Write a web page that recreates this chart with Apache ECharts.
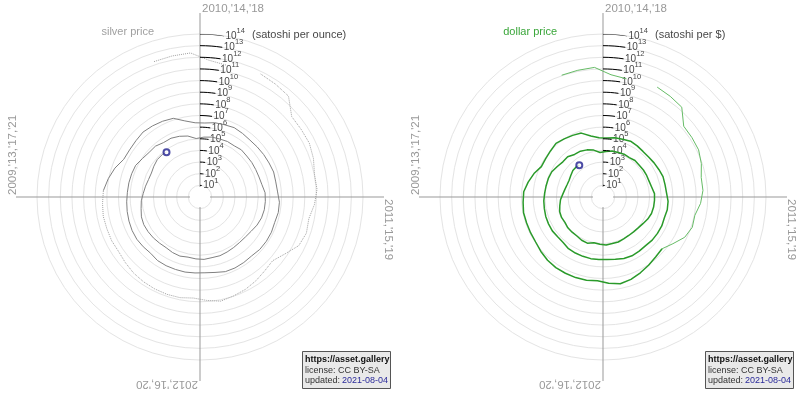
<!DOCTYPE html>
<html>
<head>
<meta charset="utf-8">
<script src="https://cdn.jsdelivr.net/npm/echarts@6/dist/echarts.min.js"></script>
<style>
  html, body { margin: 0; padding: 0; background: #fff; }
  #chart { width: 800px; height: 397px; }
</style>
</head>
<body>
<div id="chart"></div>
<script>
// monthly samples from Oct 2009, last one is 2021-08-04
var startYear = 2009, startMonth = 10;
var lastDay = [2021, 216];   // year, day of year

// bitcoin price in US dollars (null = no quote)
var btcUsd = [
  0.0009, 0.0008, 0.0007,
  0.003, 0.0045, null, 0.003, 0.004, 0.0055, 0.06, 0.065, 0.07, 0.12, 0.25, 0.25,
  0.4, 0.9, 0.8, 1.5, 6, 18, 14, 9, 5.5, 3.4, 2.5, 3.8,
  6.2, 5.2, 4.9, 5.0, 5.1, 6.0, 8.0, 11.0, 11.5, 11.8, 11.0, 13.3,
  15, 28, 55, 125, 120, 100, 75, 100, 125, 160, 450, 800,
  850, 650, 580, 450, 520, 620, 620, 530, 450, 360, 370, 340,
  250, 235, 270, 235, 237, 240, 280, 255, 235, 265, 360, 420,
  410, 400, 415, 430, 460, 640, 660, 580, 605, 640, 730, 800,
  950, 1050, 1100, 1250, 1900, 2600, 2500, 4000, 4100, 5300, 7800, 15000,
  12000, 9500, 9000, 8000, 8500, 6800, 7200, 6700, 6600, 6500, 5400, 3700,
  3700, 3700, 4000, 5200, 7500, 9500, 10500, 10600, 9800, 8300, 8400, 7300,
  8400, 9700, 6500, 7200, 9300, 9500, 9600, 11700, 10700, 11800, 16500, 22000,
  34000, 46000, 55000, 57000, 47000, 36000, 34000, 39500
];

// silver price in US dollars per ounce
var silverUsd = [
  17.2, 17.8, 17.5,
  17.7, 15.9, 17.1, 18.1, 18.4, 18.5, 18.0, 18.4, 20.6, 23.4, 26.5, 29.4,
  28.3, 30.6, 35.8, 42.7, 37.0, 35.8, 37.9, 40.3, 38.0, 31.9, 33.0, 30.4,
  30.9, 33.9, 33.0, 31.5, 28.6, 28.1, 27.4, 28.7, 33.6, 33.4, 32.7, 32.5,
  31.2, 30.4, 28.8, 25.4, 22.7, 21.1, 19.7, 22.1, 22.6, 21.9, 20.8, 19.6,
  19.9, 20.8, 20.7, 19.7, 19.3, 19.8, 20.9, 19.8, 18.4, 17.2, 16.0, 16.2,
  17.1, 16.8, 16.2, 16.3, 16.8, 16.2, 15.0, 14.9, 14.7, 15.7, 14.5, 14.0,
  14.1, 15.0, 15.4, 16.3, 16.9, 17.2, 20.0, 19.6, 19.3, 17.7, 17.4, 16.3,
  16.9, 17.8, 17.4, 18.0, 16.7, 16.9, 16.0, 16.9, 17.4, 17.0, 17.0, 16.2,
  17.1, 16.6, 16.5, 16.6, 16.5, 16.6, 15.7, 14.9, 14.3, 14.6, 14.3, 14.8,
  15.6, 15.8, 15.2, 15.0, 14.6, 15.0, 15.8, 17.3, 18.1, 17.6, 17.1, 17.1,
  17.9, 17.9, 14.9, 15.1, 16.0, 17.7, 20.4, 26.9, 25.8, 24.3, 23.7, 24.8,
  25.9, 27.0, 25.6, 25.6, 27.4, 27.1, 25.9, 25.4
];

var radiusTicks = [1, 2, 3, 4, 5, 6, 7, 8, 9, 10, 11, 12, 13, 14];  // powers of ten
var yearLabels = ["2010,'14,'18", "2011,'15,'19", "2012,'16,'20", "2009,'13,'17,'21"];

var ff = '"Liberation Sans", Arial, Helvetica, sans-serif';
var R = 163, tickArc = 0.094;

var times = btcUsd.map(function (v, i) {
  var m = startMonth - 1 + i;
  return startYear + Math.floor(m / 12) + ((m % 12) + 0.5) / 12;
});
times[times.length - 1] = lastDay[0] + lastDay[1] / 365;

// one turn = four years, top = 2010
function angleOf(t) {
  var a = (t - 2010) % 4;
  if (a < 0) a += 4;
  return a + 1;
}

var dollarPts = btcUsd.map(function (p, i) {
  return p == null ? ['-', '-'] : [Math.log10(1e8 / p), angleOf(times[i])];
});
var silverPts = btcUsd.map(function (p, i) {
  return p == null ? ['-', '-'] : [Math.log10(silverUsd[i] * 1e8 / p), angleOf(times[i])];
});

var tickArcs = [];
radiusTicks.forEach(function (e) {
  for (var k = 0; k <= 4; k++) tickArcs.push([e, 1 + tickArc * k / 4]);
  tickArcs.push(['-', '-']);
});

function panel(pi, pts, splitAt, early, late, unit) {
  return [
    { type: 'line', coordinateSystem: 'polar', polarIndex: pi, data: pts.slice(0, splitAt + 1),
      symbol: 'none', clip: false, silent: true, lineStyle: early },
    { type: 'line', coordinateSystem: 'polar', polarIndex: pi, data: pts.slice(splitAt),
      symbol: 'none', clip: false, silent: true, lineStyle: late },
    { type: 'line', coordinateSystem: 'polar', polarIndex: pi, data: tickArcs,
      symbol: 'none', clip: false, silent: true, lineStyle: { color: '#000', width: 1 } },
    { type: 'scatter', coordinateSystem: 'polar', polarIndex: pi, silent: true,
      data: radiusTicks.map(function (e) { return [e, 1 + tickArc]; }),
      symbolSize: 1, itemStyle: { color: 'rgba(0,0,0,0)' },
      label: {
        show: true, position: 'right', distance: 1, offset: [0, -2],
        formatter: function (p) {
          var s = '{b|10}{s|' + p.value[0] + '}';
          if (p.value[0] === 14) s += '{u|' + unit + '}';
          return s;
        },
        rich: {
          b: { fontSize: 10, fontFamily: ff, color: '#111', lineHeight: 14, verticalAlign: 'bottom' },
          s: { fontSize: 7.5, fontFamily: ff, color: '#111', lineHeight: 8, verticalAlign: 'top' },
          u: { fontSize: 11, fontFamily: ff, color: '#111', lineHeight: 14, verticalAlign: 'bottom', padding: [0, 0, 0, 4] }
        }
      } },
    { type: 'scatter', coordinateSystem: 'polar', polarIndex: pi, silent: true,
      data: [pts[pts.length - 1]], symbol: 'emptyCircle', symbolSize: 6,
      itemStyle: { color: '#1f1f8f', borderWidth: 1.5 }, z: 5 }
  ];
}

function yearText(cx, cy) {
  var st = function (t) {
    return { text: t, fill: '#999', font: '11.5px ' + ff, align: 'left', verticalAlign: 'middle' };
  };
  return [
    { type: 'text', x: cx + 2, y: cy - 188, rotation: 0, style: st(yearLabels[0]) },
    { type: 'text', x: cx + 188, y: cy + 2, rotation: -Math.PI / 2, style: st(yearLabels[1]) },
    { type: 'text', x: cx - 2, y: cy + 187, rotation: Math.PI, style: st(yearLabels[2]) },
    { type: 'text', x: cx - 187, y: cy - 2, rotation: Math.PI / 2, style: st(yearLabels[3]) }
  ];
}

function infoBox(x, y) {
  return { type: 'group', x: x, y: y, children: [
    { type: 'rect', shape: { x: 0.5, y: 0.5, width: 88, height: 37 },
      style: { fill: '#e9e9e9', stroke: '#555', lineWidth: 1 } },
    { type: 'text', x: 3, y: 9, style: { text: 'https://asset.gallery', font: 'bold 9px ' + ff, fill: '#111', verticalAlign: 'middle' } },
    { type: 'text', x: 3, y: 19.5, style: { text: 'license: CC BY-SA', font: '9px ' + ff, fill: '#333', verticalAlign: 'middle' } },
    { type: 'text', x: 3, y: 30, style: { text: 'updated:', font: '9px ' + ff, fill: '#333', verticalAlign: 'middle' } },
    { type: 'text', x: 40, y: 30, style: { text: '2021-08-04', font: '9px ' + ff, fill: '#2a2a9a', verticalAlign: 'middle' } }
  ] };
}

var centers = [[200, 197], [603, 197]];
var polar = [], angleAxis = [], radiusAxis = [];
centers.forEach(function (c) {
  polar.push({ center: c, radius: [0, R] });
  polar.push({ center: c, radius: [10, 184] });
});
polar.forEach(function (p, i) {
  if (i % 2 === 0) {
    angleAxis.push({ polarIndex: i, type: 'value', min: 1, max: 5, startAngle: 90, clockwise: true,
      axisLine: { show: false }, axisTick: { show: false }, axisLabel: { show: false }, splitLine: { show: false } });
    radiusAxis.push({ polarIndex: i, type: 'value', min: 0, max: 14, interval: 1,
      axisLine: { show: false }, axisTick: { show: false }, axisLabel: { show: false },
      splitLine: { show: true, lineStyle: { color: '#e4e4e4', width: 1 } } });
  } else {
    angleAxis.push({ polarIndex: i, type: 'value', min: 0, max: 4, interval: 1, startAngle: 90,
      axisLine: { show: false }, axisTick: { show: false }, axisLabel: { show: false },
      splitLine: { show: true, lineStyle: { color: '#999', width: 1 } } });
    radiusAxis.push({ polarIndex: i, type: 'value', show: false });
  }
});

var series = []
  .concat(panel(0, silverPts, 39,
    { color: '#a0a0a0', width: 1, type: 'dotted' },
    { color: '#808080', width: 1 }, ' (satoshi per ounce)'))
  .concat(panel(2, dollarPts, 20,
    { color: '#66bb66', width: 1 },
    { color: '#2a9a2a', width: 1.5 }, ' (satoshi per $)'));

var graphic = []
  .concat(yearText(200, 197))
  .concat(yearText(603, 197))
  .concat([
    { type: 'text', x: 154, y: 32, style: { text: 'silver price', font: '11px ' + ff, fill: '#a0a0a0', align: 'right', verticalAlign: 'middle' } },
    { type: 'text', x: 557, y: 32, style: { text: 'dollar price', font: '11px ' + ff, fill: '#3aa63a', align: 'right', verticalAlign: 'middle' } },
    infoBox(302, 351),
    infoBox(705, 351)
  ]);

var chart = echarts.init(document.getElementById('chart'));
chart.setOption({
  animation: false,
  backgroundColor: '#fff',
  polar: polar,
  angleAxis: angleAxis,
  radiusAxis: radiusAxis,
  series: series,
  graphic: graphic
});
</script>
</body>
</html>
